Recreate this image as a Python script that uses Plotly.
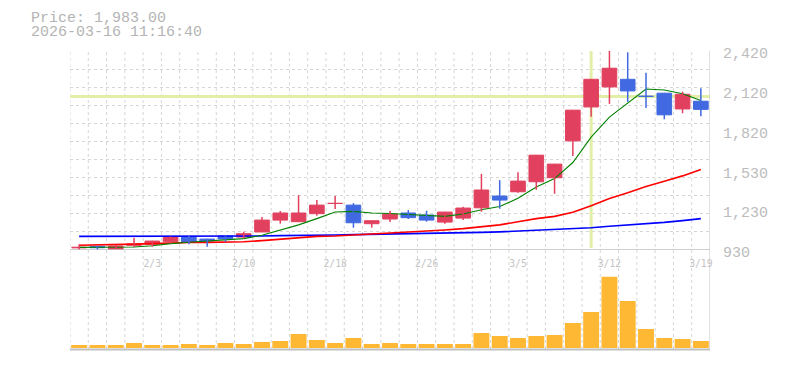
import numpy as np
import plotly.graph_objects as go

# ---------------- data ----------------
dates = ["1/28", "1/29", "1/30", "2/2", "2/3", "2/4", "2/5", "2/6", "2/9", "2/10",
         "2/12", "2/13", "2/16", "2/17", "2/18", "2/19", "2/20", "2/24", "2/25", "2/26",
         "2/27", "3/2", "3/3", "3/4", "3/5", "3/6", "3/9", "3/10", "3/11", "3/12",
         "3/13", "3/16", "3/17", "3/18", "3/19"]

opens = [946, 958, 932, 965, 973, 992, 1030, 1012, 1035, 1027,
         1065, 1154, 1142, 1202, 1278, 1266, 1127, 1162, 1207, 1192,
         1139, 1169, 1246, 1334, 1366, 1441, 1471, 1747, 2001, 2151,
         2208, 2082, 2104, 1986, 2044]
highs = [973, 958, 967, 1022, 999, 1032, 1037, 1014, 1037, 1067,
         1177, 1222, 1341, 1304, 1334, 1281, 1150, 1224, 1229, 1224,
         1215, 1254, 1500, 1453, 1513, 1642, 1575, 1979, 2210, 2420,
         2410, 2258, 2106, 2116, 2141]
lows = [928, 928, 928, 952, 955, 977, 973, 955, 992, 1017,
        1065, 1127, 1140, 1186, 1237, 1097, 1097, 1139, 1162, 1142,
        1127, 1154, 1216, 1239, 1358, 1381, 1351, 1633, 1927, 2024,
        2039, 1994, 1909, 1954, 1932]
closes = [951, 947, 960, 975, 997, 1030, 987, 997, 1012, 1052,
          1154, 1207, 1207, 1266, 1280, 1134, 1149, 1199, 1172, 1154,
          1214, 1244, 1379, 1304, 1446, 1640, 1573, 1977, 2208, 2291,
          2121, 2080, 1942, 2096, 1983]
volumes = [60000, 60000, 60000, 100000, 60000, 60000, 80000, 60000, 100000, 80000,
           120000, 140000, 280000, 160000, 100000, 200000, 80000, 100000, 80000, 80000,
           80000, 80000, 300000, 240000, 200000, 240000, 260000, 500000, 720000, 1426000,
           940000, 380000, 200000, 180000, 140000]

ma_short = [950, 950, 948, 952, 962, 978, 988, 997, 1008, 1015,
            1040, 1078, 1118, 1165, 1215, 1219, 1207, 1203, 1195, 1190,
            1182, 1200, 1232, 1255, 1318, 1402, 1465, 1585, 1775, 1925,
            2030, 2135, 2128, 2100, 2050]
ma_mid = [966, 967, 970, 974, 978, 984, 986, 987, 989, 992,
          1000, 1010, 1018, 1032, 1035, 1042, 1048, 1056, 1063, 1072,
          1080, 1090, 1103, 1118, 1142, 1165, 1182, 1212, 1262, 1316,
          1358, 1405, 1445, 1485, 1533]
ma_long = [1032, 1032, 1032, 1032, 1032, 1032, 1032, 1032, 1032, 1032,
           1035, 1038, 1038, 1040, 1042, 1045, 1047, 1047, 1050, 1055,
           1055, 1058, 1062, 1066, 1072, 1075, 1080, 1088, 1097, 1108,
           1117, 1127, 1137, 1150, 1165]

tick_dates = ["2/3", "2/10", "2/18", "2/26", "3/5", "3/12", "3/19"]
price_labels = [930, 1230, 1530, 1820, 2120, 2420]
price_min, price_max = 930, 2420

cursor_date = "3/11"
cursor_price = 2080
price_text = "Price: 1,983.00"
time_text = "2026-03-16 11:16:40"

# ---------------- styling ----------------
UP = "#e1415e"
DOWN = "#4169e1"
VOL = "#ffb834"
GRID = "#d6d6d6"
AXIS = "#c0c0c0"
TXT = "#b4b4b4"

OFF = 8                      # default page (body) margin of the html page
W, H = 785 - OFF, 370 - OFF  # figure size that fits the window
# plot rectangle in window pixels: x 70..710, y 51..350
ML, MT = 70 - OFF, 51 - OFF
MR = W - (710 - OFF)
MB = H - (350 - OFF)
PH = H - MT - MB
PW = W - ML - MR


def py(ypx):
    """window pixel y -> paper fraction"""
    return (H - MB - (ypx - OFF)) / PH


def px(xpx):
    """window pixel x -> paper fraction"""
    return ((xpx - OFF) - ML) / PW


x = np.arange(len(dates))
n = len(dates)
up = [c >= o for o, c in zip(opens, closes)]
colors = [UP if u else DOWN for u in up]

fig = go.Figure()

# moving averages
fig.add_trace(go.Scatter(x=x, y=ma_long, mode="lines", line=dict(color="#0000ff", width=1.6),
                         xaxis="x", yaxis="y", hoverinfo="skip"))
fig.add_trace(go.Scatter(x=x, y=ma_mid, mode="lines", line=dict(color="#ff0000", width=1.6),
                         xaxis="x", yaxis="y", hoverinfo="skip"))
fig.add_trace(go.Scatter(x=x, y=ma_short, mode="lines", line=dict(color="#008000", width=1.1),
                         xaxis="x", yaxis="y", hoverinfo="skip"))

# wicks
for flag, col in ((True, UP), (False, DOWN)):
    wx, wy = [], []
    for i in range(n):
        if up[i] == flag:
            wx += [i, i, None]
            wy += [lows[i], highs[i], None]
    fig.add_trace(go.Scatter(x=wx, y=wy, mode="lines", line=dict(color=col, width=1.5),
                             xaxis="x", yaxis="y", hoverinfo="skip"))

# bodies
fig.add_trace(go.Bar(x=x, base=[min(o, c) for o, c in zip(opens, closes)],
                     y=[abs(c - o) for o, c in zip(opens, closes)],
                     width=0.8, marker=dict(color=colors, line=dict(color=colors, width=1)),
                     xaxis="x", yaxis="y", hoverinfo="skip"))

# volume
fig.add_trace(go.Bar(x=x, y=volumes, width=0.87, marker=dict(color=VOL, line=dict(width=0)),
                     xaxis="x2", yaxis="y2", hoverinfo="skip"))

shapes = []
# vertical dashed grid across whole chart
for k in range(n):
    shapes.append(dict(type="line", xref="x", yref="paper", x0=k - 0.5, x1=k - 0.5,
                       y0=py(349), y1=1, layer="below",
                       line=dict(color=GRID, width=1, dash="3px,3px")))
# right border
shapes.append(dict(type="line", xref="x", yref="paper", x0=n - 0.5, x1=n - 0.5,
                   y0=py(350), y1=1, line=dict(color=AXIS, width=1), layer="above"))
# price bottom axis line
shapes.append(dict(type="line", xref="x", yref="y", x0=-0.5, x1=n - 0.5,
                   y0=price_min, y1=price_min, line=dict(color=AXIS, width=1.5), layer="above"))
# volume bottom axis line
shapes.append(dict(type="line", xref="x", yref="paper", x0=-0.5, x1=n - 0.5,
                   y0=py(349.5), y1=py(349.5), line=dict(color=AXIS, width=2), layer="above"))
# crosshair
ci = dates.index(cursor_date)
shapes.append(dict(type="line", xref="x", yref="y", x0=ci, x1=ci, y0=price_min + 15, y1=price_max,
                   line=dict(color="#e2efa8", width=3), layer="between"))
shapes.append(dict(type="line", xref="x", yref="y", x0=-0.5, x1=n - 0.5, y0=cursor_price,
                   y1=cursor_price, line=dict(color="#e2efa8", width=3), layer="between"))

vmax = max(volumes)
fig.update_layout(
    width=W, height=H,
    margin=dict(l=ML, r=MR, t=MT, b=MB, autoexpand=False),
    paper_bgcolor="white", plot_bgcolor="white",
    showlegend=False, barmode="overlay",
    shapes=shapes,
    xaxis=dict(domain=[0, 1], anchor="y", range=[-0.5, n - 0.5],
               tickmode="array", tickvals=[dates.index(d) for d in tick_dates], ticktext=tick_dates,
               showgrid=False, zeroline=False, showline=False, ticks="",
               tickfont=dict(family="DejaVu Sans Mono", size=9.7, color="#c4c4c4"),
               ticklabelstandoff=6),
    xaxis2=dict(domain=[0, 1], anchor="y2", range=[-0.5, n - 0.5], matches="x",
                showticklabels=False, showgrid=False, zeroline=False, showline=False, ticks=""),
    yaxis=dict(domain=[py(250), 1], anchor="x", range=[price_min, price_max],
               tickmode="array", tickvals=list(np.linspace(price_min, price_max, 12)),
               showticklabels=False, showgrid=True, gridcolor=GRID, griddash="3px,3px",
               gridwidth=1, zeroline=False, showline=False, ticks=""),
    yaxis3=dict(overlaying="y", anchor="x", side="right", range=[price_min, price_max],
                tickmode="array", tickvals=list(np.linspace(price_min, price_max, len(price_labels))),
                ticktext=[f"{v:,}" for v in price_labels],
                showgrid=False, zeroline=False, showline=False, ticks="",
                tickfont=dict(family="Liberation Mono", size=15, color="#bcbcbc"),
                ticklabelstandoff=12, ticklabelshift=2),
    yaxis2=dict(domain=[py(348), py(270)], anchor="x2", range=[0, vmax * 78 / 71.3],
                showticklabels=False, showgrid=False, zeroline=False, showline=False, ticks=""),
    annotations=[
        dict(text=price_text, xref="paper", yref="paper", x=px(28.5), y=py(18),
             xanchor="left", yanchor="middle", showarrow=False,
             font=dict(family="Liberation Mono", size=15, color=TXT)),
        dict(text=time_text, xref="paper", yref="paper", x=px(28.5), y=py(32.5),
             xanchor="left", yanchor="middle", showarrow=False,
             font=dict(family="Liberation Mono", size=15, color=TXT)),
    ],
)
# dummy trace so yaxis3 renders
fig.add_trace(go.Scatter(x=[None], y=[None], xaxis="x", yaxis="y3", hoverinfo="skip"))

fig.write_html("out.html")
